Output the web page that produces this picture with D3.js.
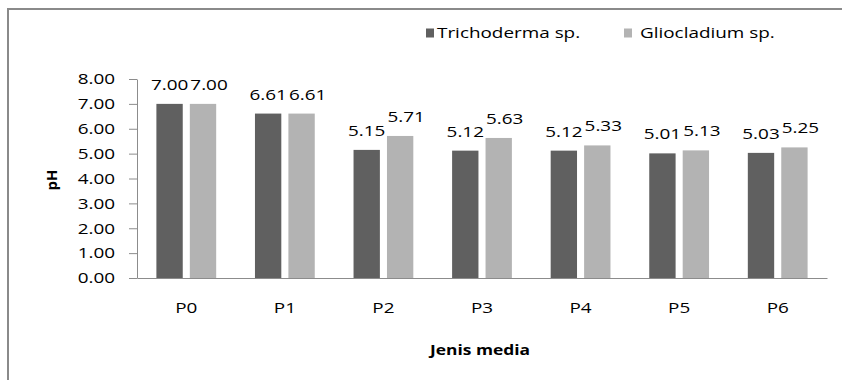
<!DOCTYPE html>
<html><head><meta charset="utf-8">
<script src="https://cdn.jsdelivr.net/npm/d3@7"></script>
<style>
html,body{margin:0;padding:0;background:#fff;}
svg{display:block;}
</style></head>
<body>
<svg id="chart" width="842" height="380"></svg>
<script>
const categories = ["P0","P1","P2","P3","P4","P5","P6"];
const seriesNames = ["Trichoderma sp.","Gliocladium sp."];
const trichoderma = [7.00,6.61,5.15,5.12,5.12,5.01,5.03];
const gliocladium = [7.00,6.61,5.71,5.63,5.33,5.13,5.25];
const yTicks = [0,1,2,3,4,5,6,7,8];
const colors = ["#606060","#b3b3b3"];

const FONT = "'Open Sans', sans-serif";
const SX = 1.26;

const svg = d3.select("#chart");
const W = 842, H = 380;

// frame
svg.append("rect").attr("x",8).attr("y",9).attr("width",W+20).attr("height",H+20)
  .attr("fill","none").attr("stroke","#8a8a8a").attr("stroke-width",2);

const plot = {left:137, right:827, top:79, bottom:278};
const x0 = d3.scaleBand().domain(categories).range([plot.left, plot.right]).padding(0);
const x1 = d3.scaleBand().domain(seriesNames).range([0, x0.bandwidth()]).paddingInner(0.212).paddingOuter(0.58);
const y = d3.scaleLinear().domain([0,8]).range([plot.bottom, plot.top]);

const rows = categories.map((c,i)=>({cat:c, vals:[trichoderma[i], gliocladium[i]]}));

function stretchText(sel, sx){
  sel.each(function(){
    const t = d3.select(this);
    const xv = +t.attr("x") || 0;
    t.attr("x", xv/sx).attr("transform", `scale(${sx},1)`);
  });
}

// bars
const g = svg.append("g");
rows.forEach(r=>{
  r.vals.forEach((v,k)=>{
    g.append("rect")
      .attr("x", x0(r.cat)+x1(seriesNames[k]))
      .attr("y", y(v))
      .attr("width", x1.bandwidth())
      .attr("height", y(0)-y(v))
      .attr("fill", colors[k]);
  });
});

// value labels
rows.forEach(r=>{
  r.vals.forEach((v,k)=>{
    const cx = x0(r.cat)+x1(seriesNames[k])+x1.bandwidth()/2 + (k===1?6:0);
    svg.append("g").attr("transform",`translate(${cx},${y(v)-14})`)
      .append("text").attr("text-anchor","middle")
      .attr("font-family",FONT).attr("font-size",15).attr("fill","#000")
      .attr("transform",`scale(${SX},1)`)
      .text(d3.format(".2f")(v));
  });
});

// y axis
const yAxis = svg.append("g").attr("transform",`translate(${plot.left},0)`)
  .call(d3.axisLeft(y).tickValues(yTicks).tickFormat(d3.format(".2f")).tickSize(8).tickSizeOuter(0).tickPadding(14));
yAxis.selectAll("path,line").attr("stroke","#8c8c8c");
yAxis.selectAll("text").attr("font-family",FONT).attr("font-size",15).attr("fill","#000");
stretchText(yAxis.selectAll("text"), SX);

// x axis
const xAxis = svg.append("g").attr("transform",`translate(0,${plot.bottom})`)
  .call(d3.axisBottom(x0).tickSize(0).tickSizeOuter(0).tickPadding(24));
xAxis.selectAll("path").attr("stroke","#8c8c8c");
xAxis.selectAll("text").attr("font-family",FONT).attr("font-size",15).attr("fill","#000");
stretchText(xAxis.selectAll("text"), SX);

// axis titles
svg.append("g").attr("transform",`translate(${(plot.left+plot.right)/2-2},355)`)
  .append("text").attr("text-anchor","middle").attr("font-family",FONT)
  .attr("font-size",15).attr("font-weight","bold").attr("fill","#000")
  .attr("transform","scale(1.16,1)").text("Jenis media");
svg.append("g").attr("transform",`translate(57,180) rotate(-90)`)
  .append("text").attr("text-anchor","middle").attr("font-family",FONT)
  .attr("font-size",15).attr("font-weight","bold").attr("fill","#000").text("pH");

// legend
const legendX = [426, 624];
seriesNames.forEach((s,k)=>{
  const lg = svg.append("g").attr("transform",`translate(${legendX[k]},0)`);
  lg.append("rect").attr("x",0).attr("y",28.5).attr("width",8).attr("height",9).attr("fill",colors[k]);
  lg.append("g").attr("transform",`translate(${k===0?11:16},38)`)
    .append("text").attr("font-family",FONT).attr("font-size",15).attr("fill","#000")
    .attr("transform",`scale(${SX},1)`).text(s);
});
</script>
</body></html>
